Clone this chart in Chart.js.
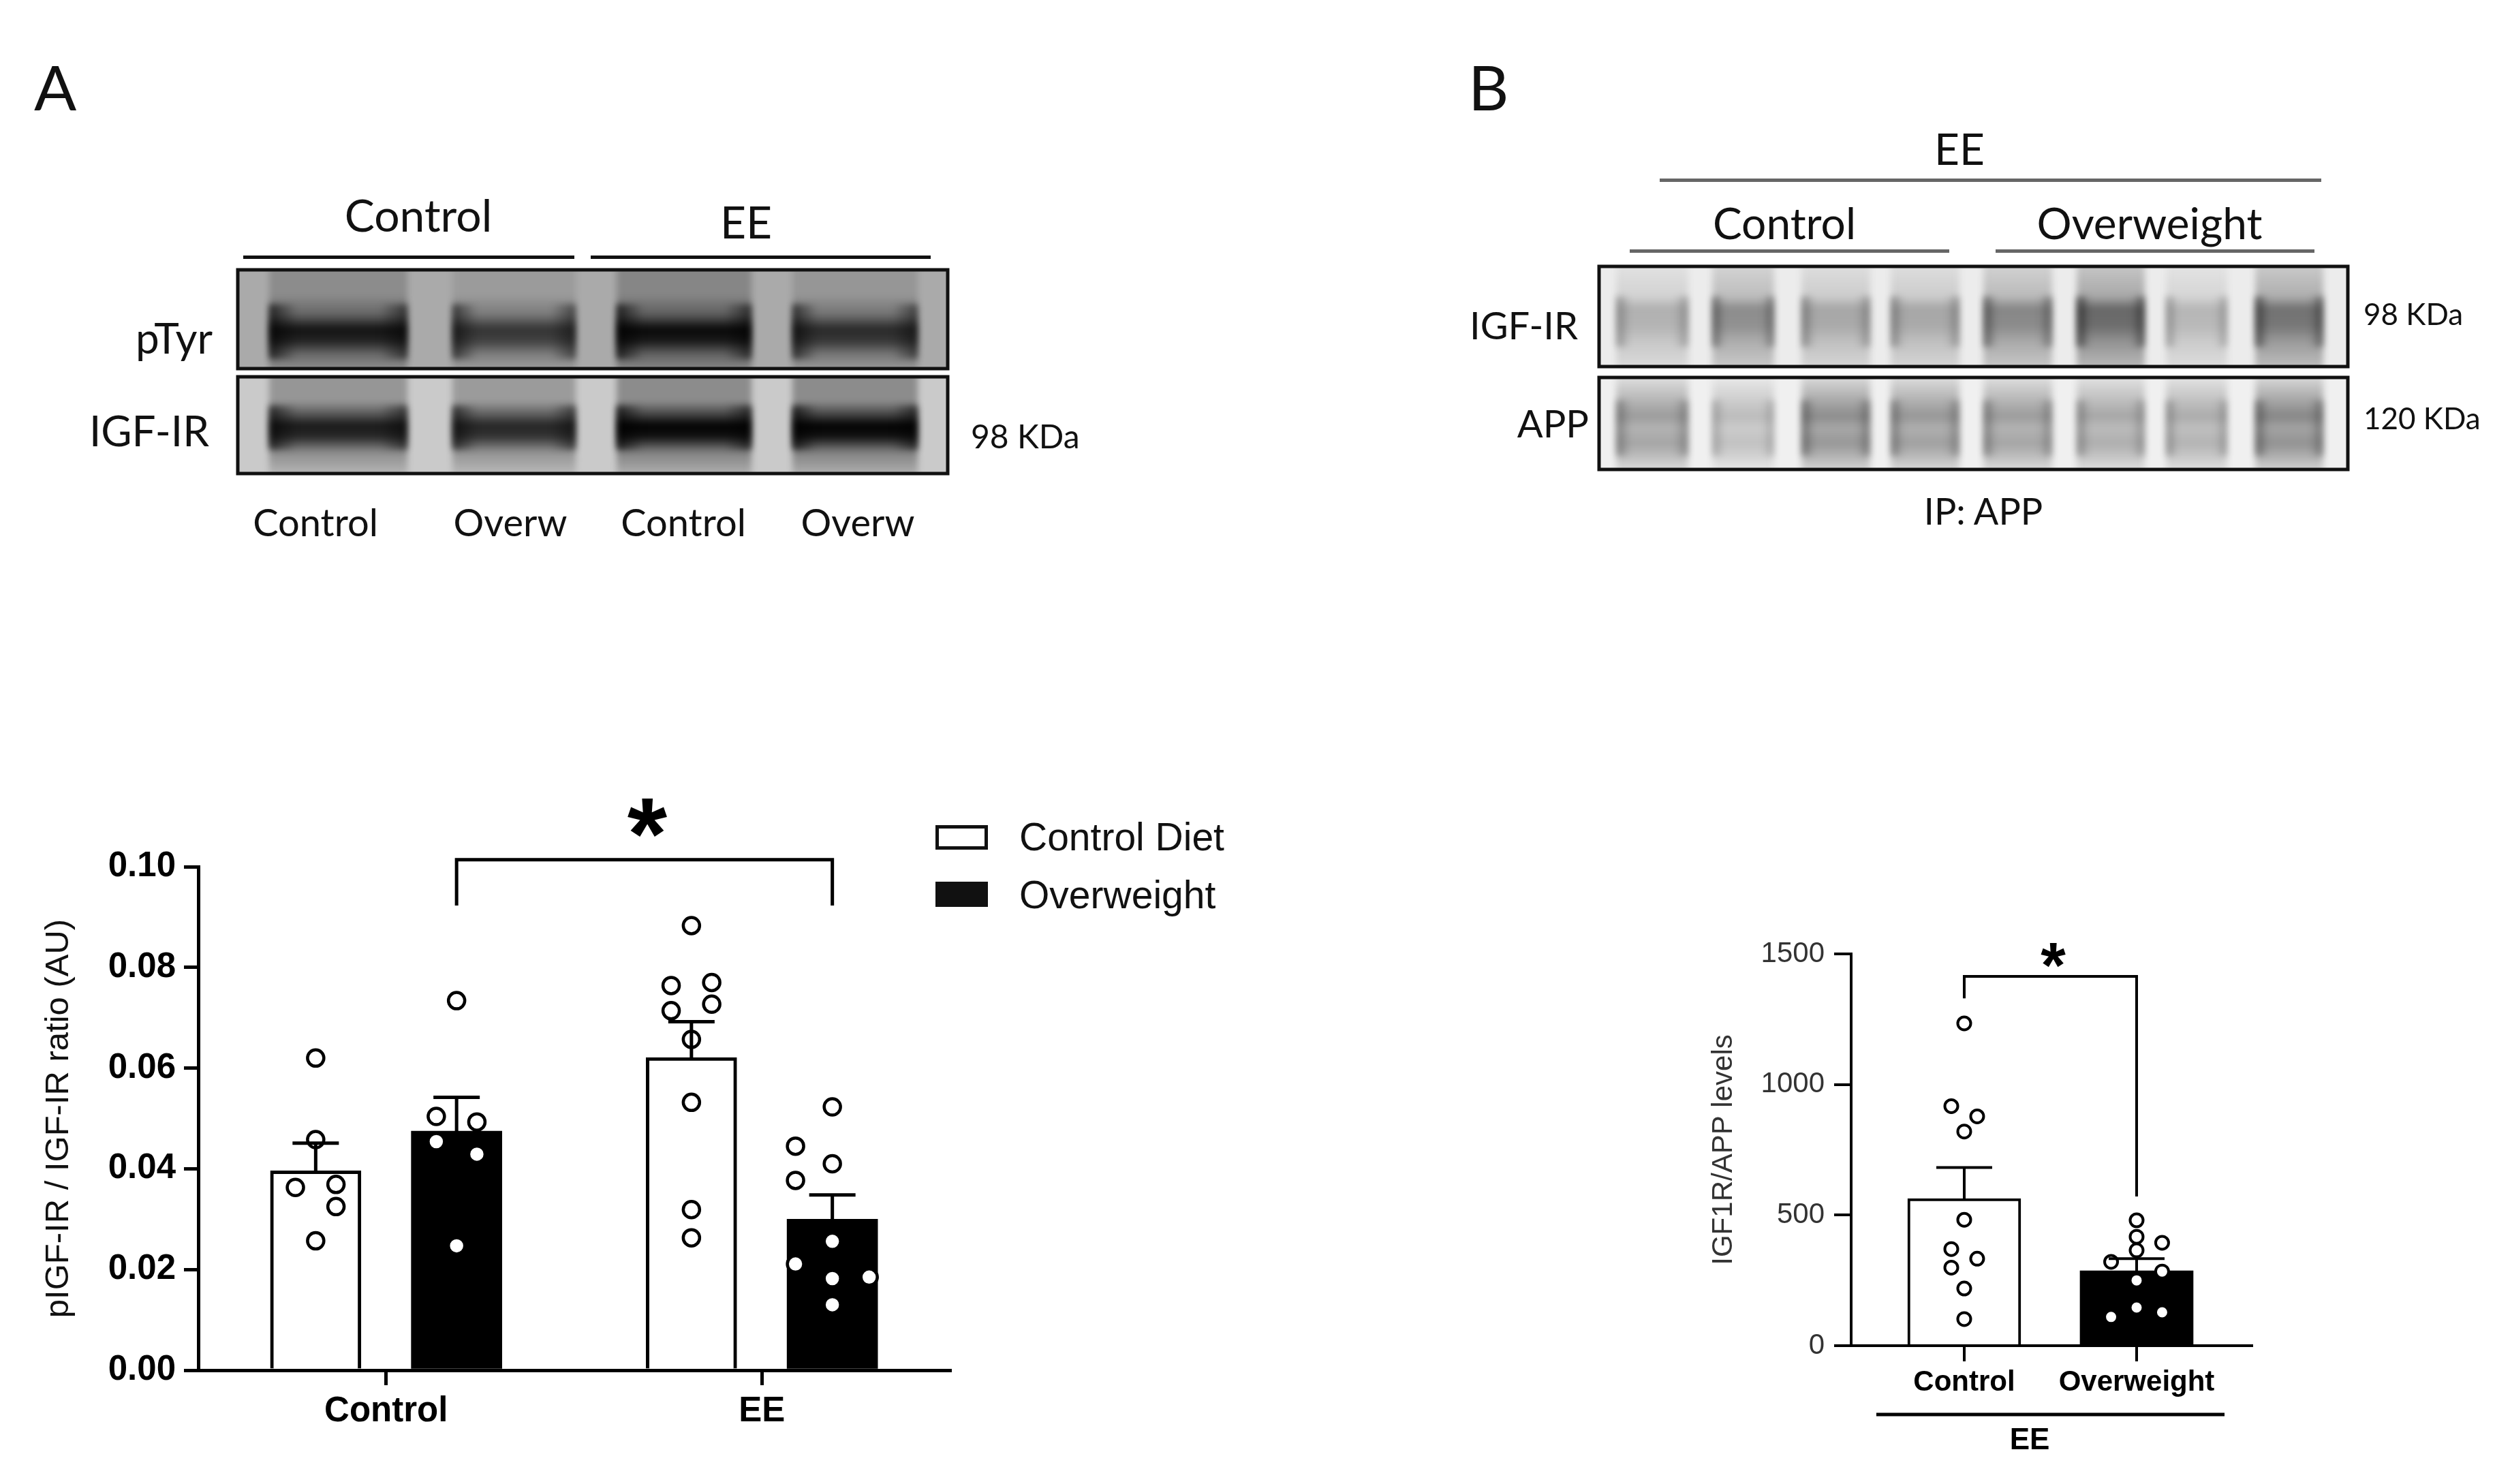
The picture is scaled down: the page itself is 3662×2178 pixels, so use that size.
<!DOCTYPE html>
<html><head><meta charset="utf-8">
<script src="https://cdn.jsdelivr.net/npm/chart.js@4.4.1/dist/chart.umd.min.js"></script>
<style>
html,body{margin:0;padding:0;background:#fff;}
#page{position:relative;width:3662px;height:2178px;overflow:hidden;background:#fff;}
.t{position:absolute;white-space:nowrap;line-height:1;color:#111;font-family:Lato,"Open Sans",sans-serif;}
.c{transform:translate(-50%,-50%);}
.r{transform:translate(-100%,-50%);}
.l{transform:translate(0,-50%);}
.ln{position:absolute;}
canvas{position:absolute;}
.lg{position:absolute;font-family:"Liberation Sans",Arial,sans-serif;font-size:57px;color:#111;line-height:1;transform:translate(0,-50%);white-space:nowrap;}
.box{position:absolute;box-sizing:border-box;}
</style></head>
<body><div id="page">
<canvas id="blot" width="3662" height="900" style="left:0;top:0;"></canvas>

<div class="t l" style="left:50px;top:127px;font-size:92px;">A</div>
<div class="t c" style="left:614px;top:315px;font-size:66px;">Control</div>
<div class="t c" style="left:1095px;top:325px;font-size:66px;">EE</div>
<div class="ln" style="left:357px;top:375px;width:486px;height:5px;background:#111;"></div>
<div class="ln" style="left:867px;top:375px;width:499px;height:5px;background:#111;"></div>
<div class="t r" style="left:312px;top:495px;font-size:62px;">pTyr</div>
<div class="t r" style="left:307px;top:631px;font-size:62px;">IGF-IR</div>
<div class="t l" style="left:1425px;top:640px;font-size:48px;">98 KDa</div>
<div class="t c" style="left:463px;top:766px;font-size:56px;">Control</div>
<div class="t c" style="left:749px;top:766px;font-size:56px;">Overw</div>
<div class="t c" style="left:1003px;top:766px;font-size:56px;">Control</div>
<div class="t c" style="left:1259px;top:766px;font-size:56px;">Overw</div>

<div class="t l" style="left:2155px;top:127px;font-size:92px;">B</div>
<div class="t c" style="left:2876px;top:218px;font-size:64px;">EE</div>
<div class="ln" style="left:2436px;top:262px;width:971px;height:5px;background:#666;"></div>
<div class="t c" style="left:2619px;top:327px;font-size:64px;">Control</div>
<div class="t c" style="left:3155px;top:327px;font-size:64px;">Overweight</div>
<div class="ln" style="left:2392px;top:366px;width:469px;height:5px;background:#666;"></div>
<div class="ln" style="left:2929px;top:366px;width:468px;height:5px;background:#666;"></div>
<div class="t r" style="left:2316px;top:477px;font-size:56px;">IGF-IR</div>
<div class="t r" style="left:2332px;top:621px;font-size:56px;">APP</div>
<div class="t l" style="left:3469px;top:460px;font-size:44px;">98 KDa</div>
<div class="t l" style="left:3469px;top:613px;font-size:44px;">120 KDa</div>
<div class="t c" style="left:2911px;top:750px;font-size:54px;">IP: APP</div>

<canvas id="chartA" width="1900" height="1078" style="left:0;top:1100px;width:1900px;height:1078px;"></canvas>
<canvas id="chartB" width="950" height="878" style="left:2450px;top:1300px;width:950px;height:878px;"></canvas>

<div class="box" style="left:1373px;top:1211px;width:77px;height:36px;border:5px solid #111;background:#fff;"></div>
<div class="box" style="left:1373px;top:1294px;width:77px;height:37px;background:#111;"></div>
<div class="lg" id="lg0" style="left:1496px;top:1228px;"></div>
<div class="lg" id="lg1" style="left:1496px;top:1313px;"></div>
</div>
<script>
// ================= DATA =================
const categoriesA = ['Control', 'EE'];
const seriesA = ['Control Diet', 'Overweight'];
const meanControlDietA = [0.0396, 0.0621];
const meanOverweightA = [0.0475, 0.0300];
const semControlDietA = [0.0055, 0.0071];
const semOverweightA = [0.0067, 0.0048];
const pointsControlDietA = [
  [0.0620, 0.0458, 0.0363, 0.0369, 0.0325, 0.0257],
  [0.0883, 0.0764, 0.0770, 0.0714, 0.0727, 0.0657, 0.0532, 0.0319, 0.0263]
];
const pointsOverweightA = [
  [0.0734, 0.0504, 0.0493, 0.0454, 0.0429, 0.0247],
  [0.0523, 0.0445, 0.0410, 0.0377, 0.0256, 0.0211, 0.0182, 0.0185, 0.0130]
];
const yTicksA = [0, 0.02, 0.04, 0.06, 0.08, 0.10];
const yTitleA = 'pIGF-IR / IGF-IR ratio (AU)';
const sigA = { fromCat: 0, toCat: 1, series: 1, top: 0.1014, end: 0.0923, label: '*' };

const categoriesB = ['Control', 'Overweight'];
const groupLabelB = 'EE';
const meanB = [563, 287];
const semB = [119, 46];
const pointsB = [
  [1234, 917, 878, 820, 482, 370, 333, 299, 219, 102],
  [480, 417, 394, 365, 321, 284, 250, 146, 128, 110]
];
const yTicksB = [0, 500, 1000, 1500];
const yTitleB = 'IGF1R/APP levels';
const sigB = { from: 0, to: 1, top: 1414, endFrom: 1330, endTo: 571, label: '*' };

// ================= LAYOUT (positions / styles, not data) =================
const colsControlDietA = [[0, 0, -1, 1, 1, 0], [0, -1, 1, -1, 1, 0, 0, 0, 0]];
const colsOverweightA = [[0, -1, 1, -1, 1, 0], [0, -1, 0, -1, 0, -1, 0, 1, 0]];
const jitterA = [[0.054, 0.054], [0.054, 0.098]];
const colsB = [[0, -1, 1, 0, 0, -1, 1, -1, 0, 0], [0, 0, 1, 0, -1, 1, 0, 0, 1, -1]];
const jitterB = [0.075, 0.148];

document.getElementById('lg0').textContent = seriesA[0];
document.getElementById('lg1').textContent = seriesA[1];

// ================= BLOTS (decorative images) =================
(function drawBlots() {
  const ctx = document.getElementById('blot').getContext('2d');
  const gray = v => { v = Math.max(0, Math.min(255, Math.round(v))); return `rgb(${v},${v},${v})`; };
  function panel(p) {
    ctx.save();
    ctx.beginPath(); ctx.rect(p.x, p.y, p.w, p.h); ctx.clip();
    ctx.fillStyle = gray(p.bg); ctx.fillRect(p.x, p.y, p.w, p.h);
    ctx.filter = `blur(${p.blur}px)`;
    p.lanes.forEach((ln, i) => {
      const d = p.dark[i];
      const g = ctx.createLinearGradient(0, p.y, 0, p.y + p.h);
      p.stops.forEach(([s, v]) => g.addColorStop(s, gray(255 - (255 - v) * d)));
      ctx.fillStyle = g;
      ctx.fillRect(ln[0], p.y - 12, ln[1] - ln[0], p.h + 24);
      const hg = ctx.createLinearGradient(ln[0], 0, ln[1], 0);
      hg.addColorStop(0, `rgba(0,0,0,${Math.min(1, p.edge * d)})`);
      hg.addColorStop(0.2, 'rgba(0,0,0,0)');
      hg.addColorStop(0.8, 'rgba(0,0,0,0)');
      hg.addColorStop(1, `rgba(0,0,0,${Math.min(1, p.edge * 0.8 * d)})`);
      ctx.fillStyle = hg;
      ctx.fillRect(ln[0], p.y + p.h * p.b0, ln[1] - ln[0], p.h * (p.b1 - p.b0));
    });
    ctx.restore();
    ctx.lineWidth = p.border; ctx.strokeStyle = '#111';
    ctx.strokeRect(p.x, p.y, p.w, p.h);
  }
  const lanesA = [[395, 598], [664, 845], [905, 1103], [1163, 1347]];
  const lanesB = [[2372, 2478], [2513, 2604], [2644, 2745], [2775, 2876], [2911, 3012], [3048, 3148], [3179, 3269], [3310, 3410]];
  panel({ x: 349, y: 396, w: 1042, h: 145, bg: 170, lanes: lanesA, dark: [1.1, 0.95, 1.15, 1.0],
    stops: [[0, 150], [0.25, 150], [0.45, 115], [0.6, 40], [0.72, 55], [0.86, 120], [1, 150]],
    edge: 0.6, b0: 0.35, b1: 0.9, blur: 5, border: 5 });
  panel({ x: 349, y: 553, w: 1042, h: 142, bg: 202, lanes: lanesA, dark: [1.0, 0.95, 1.1, 1.1],
    stops: [[0, 150], [0.25, 150], [0.38, 90], [0.5, 25], [0.62, 40], [0.78, 140], [1, 180]],
    edge: 0.6, b0: 0.3, b1: 0.75, blur: 5, border: 5 });
  panel({ x: 2347, y: 391, w: 1099, h: 147, bg: 236, lanes: lanesB, dark: [0.75, 1.1, 0.85, 0.85, 1.15, 1.45, 0.7, 1.35],
    stops: [[0, 215], [0.3, 195], [0.42, 150], [0.6, 155], [0.75, 180], [1, 205]],
    edge: 0.35, b0: 0.3, b1: 0.8, blur: 5, border: 5 });
  panel({ x: 2347, y: 554, w: 1099, h: 135, bg: 240, lanes: lanesB, dark: [0.95, 0.65, 1.1, 1.0, 0.95, 0.85, 0.8, 1.15],
    stops: [[0, 220], [0.2, 185], [0.42, 150], [0.55, 175], [0.72, 160], [0.88, 190], [1, 215]],
    edge: 0.3, b0: 0.25, b1: 0.85, blur: 5, border: 5 });
})();

// ================= CHARTS =================
Chart.defaults.font.family = '"Liberation Sans", Arial, sans-serif';
Chart.defaults.color = '#000';

// ---- Chart A ----
const W_A = 1900, H_A = 1078;
const areaA = { left: 291, right: 1394, top: 172, bottom: 911 };
const catPctA = 0.75;
const barWidthA = 133;
const offA = j => (j - 0.5) * catPctA / 2;

function scatterA(points, cols, j) {
  const out = [];
  points.forEach((arr, i) => arr.forEach((v, k) => {
    out.push({ x: i + offA(j) + cols[i][k] * jitterA[j][i], y: v });
  }));
  return out;
}
const barsA = (means, j) => means.map((v, i) => ({ x: i + offA(j), y: v }));

const errorBarsA = {
  id: 'errorBarsA',
  afterDatasetsDraw(chart) {
    const { ctx } = chart; const y = chart.scales.y; const x = chart.scales.x;
    const sets = [[2, meanControlDietA, semControlDietA], [3, meanOverweightA, semOverweightA]];
    ctx.save();
    ctx.strokeStyle = '#000'; ctx.lineWidth = 5; ctx.lineCap = 'butt';
    sets.forEach(([di, m, s]) => {
      chart.getDatasetMeta(di).data.forEach((el, i) => {
        const yt = y.getPixelForValue(m[i] + s[i]);
        ctx.beginPath();
        ctx.moveTo(el.x, el.y); ctx.lineTo(el.x, yt);
        ctx.moveTo(el.x - 34, yt); ctx.lineTo(el.x + 34, yt);
        ctx.stroke();
      });
    });
    const xl = x.getPixelForValue(sigA.fromCat + offA(sigA.series));
    const xr = x.getPixelForValue(sigA.toCat + offA(sigA.series));
    const yt = y.getPixelForValue(sigA.top), ye = y.getPixelForValue(sigA.end);
    ctx.beginPath();
    ctx.moveTo(xl, ye); ctx.lineTo(xl, yt); ctx.lineTo(xr, yt); ctx.lineTo(xr, ye);
    ctx.stroke();
    ctx.fillStyle = '#000';
    ctx.font = 'bold 150px "Liberation Sans", Arial, sans-serif';
    ctx.textAlign = 'center'; ctx.textBaseline = 'alphabetic';
    ctx.fillText(sigA.label, (xl + xr) / 2 + 4, yt - 72 + 86);
    ctx.restore();
  }
};

const ptStyleA = { pointRadius: 12, pointBorderWidth: 4.5, pointBackgroundColor: '#fff', pointBorderColor: '#000' };

new Chart(document.getElementById('chartA'), {
  type: 'bar',
  data: {
    datasets: [
      Object.assign({ type: 'scatter', label: 'pts ' + seriesA[0], data: scatterA(pointsControlDietA, colsControlDietA, 0), order: 0 }, ptStyleA),
      Object.assign({ type: 'scatter', label: 'pts ' + seriesA[1], data: scatterA(pointsOverweightA, colsOverweightA, 1), order: 0 }, ptStyleA),
      { type: 'bar', label: seriesA[0], data: barsA(meanControlDietA, 0), order: 1, grouped: false,
        backgroundColor: '#fff', borderColor: '#000', borderWidth: 5, barThickness: barWidthA },
      { type: 'bar', label: seriesA[1], data: barsA(meanOverweightA, 1), order: 1, grouped: false,
        backgroundColor: '#000', borderColor: '#000', borderWidth: 0, barThickness: barWidthA }
    ]
  },
  options: {
    responsive: false, animation: false, devicePixelRatio: 1,
    layout: { padding: { left: 0, top: areaA.top, right: W_A - areaA.right, bottom: 0 } },
    plugins: { legend: { display: false }, tooltip: { enabled: false } },
    scales: {
      x: {
        type: 'linear', min: -0.5, max: 1.5, offset: false, bounds: 'data', position: 'bottom',
        afterBuildTicks: s => { s.ticks = categoriesA.map((c, i) => ({ value: i })); },
        grid: { offset: false, drawOnChartArea: false, drawTicks: true, tickLength: 22, lineWidth: 5, color: '#000' },
        border: { display: true, width: 5, color: '#000' },
        ticks: { callback: v => categoriesA[v], font: { size: 51, weight: 'bold' }, color: '#000', padding: 8, maxRotation: 0, autoSkip: false },
        afterFit: s => { s.height = H_A - areaA.bottom; }
      },
      y: {
        min: 0, max: 0.1, position: 'left',
        afterBuildTicks: s => { s.ticks = yTicksA.map(v => ({ value: v })); },
        ticks: { callback: v => Number(v).toFixed(2), font: { size: 51, weight: 'bold' }, color: '#000', padding: 12 },
        grid: { drawOnChartArea: false, drawTicks: true, tickLength: 21, lineWidth: 5, color: '#000' },
        border: { display: true, width: 5, color: '#000' },
        title: { display: true, text: yTitleA, font: { size: 49 }, color: '#111', padding: { top: 57, bottom: 0 } },
        afterFit: s => { s.width = areaA.left; }
      }
    }
  },
  plugins: [errorBarsA]
});

// ---- Chart B ----
const W_B = 950, H_B = 878;
const areaB = { left: 267, right: 855, top: 100, bottom: 675 };
const xMinB = -0.656, xMaxB = 1.668;
const groupLineB = [-0.51, 1.51];
const groupLabelPosB = 0.38;

const extrasB = {
  id: 'extrasB',
  afterDatasetsDraw(chart) {
    const { ctx } = chart; const y = chart.scales.y; const x = chart.scales.x;
    ctx.save();
    ctx.strokeStyle = '#000'; ctx.lineWidth = 4;
    chart.getDatasetMeta(1).data.forEach((el, i) => {
      const yt = y.getPixelForValue(meanB[i] + semB[i]);
      ctx.beginPath();
      ctx.moveTo(el.x, el.y); ctx.lineTo(el.x, yt);
      ctx.moveTo(el.x - 41, yt); ctx.lineTo(el.x + 41, yt);
      ctx.stroke();
    });
    const xl = x.getPixelForValue(sigB.from), xr = x.getPixelForValue(sigB.to);
    const yt = y.getPixelForValue(sigB.top);
    ctx.beginPath();
    ctx.moveTo(xl, y.getPixelForValue(sigB.endFrom)); ctx.lineTo(xl, yt);
    ctx.lineTo(xr, yt); ctx.lineTo(xr, y.getPixelForValue(sigB.endTo));
    ctx.stroke();
    ctx.fillStyle = '#000';
    ctx.font = 'bold 94px "Liberation Sans", Arial, sans-serif';
    ctx.textAlign = 'center'; ctx.textBaseline = 'alphabetic';
    ctx.fillText(sigB.label, (xl + xr) / 2 + 4, yt - 38 + 54);
    ctx.lineWidth = 5;
    ctx.beginPath();
    ctx.moveTo(x.getPixelForValue(groupLineB[0]), 776);
    ctx.lineTo(x.getPixelForValue(groupLineB[1]), 776);
    ctx.stroke();
    ctx.font = 'bold 44px "Liberation Sans", Arial, sans-serif';
    ctx.textBaseline = 'middle';
    ctx.fillText(groupLabelB, x.getPixelForValue(groupLabelPosB), 815);
    ctx.restore();
  }
};

const scatterBData = [];
pointsB.forEach((arr, i) => arr.forEach((v, k) => scatterBData.push({ x: i + colsB[i][k] * jitterB[i], y: v })));

new Chart(document.getElementById('chartB'), {
  type: 'bar',
  data: {
    datasets: [
      { type: 'scatter', label: 'points', data: scatterBData, order: 0,
        pointRadius: 9.5, pointBorderWidth: 4, pointBackgroundColor: '#fff', pointBorderColor: '#000' },
      { type: 'bar', label: 'mean', data: meanB.map((v, i) => ({ x: i, y: v })), order: 1, grouped: false,
        backgroundColor: ['#fff', '#000'], borderColor: '#000', borderWidth: [4, 0], barThickness: 166 }
    ]
  },
  options: {
    responsive: false, animation: false, devicePixelRatio: 1,
    layout: { padding: { left: 0, top: areaB.top, right: W_B - areaB.right, bottom: 0 } },
    plugins: { legend: { display: false }, tooltip: { enabled: false } },
    scales: {
      x: {
        type: 'linear', min: xMinB, max: xMaxB, offset: false, bounds: 'data', position: 'bottom',
        afterBuildTicks: s => { s.ticks = categoriesB.map((c, i) => ({ value: i })); },
        ticks: { callback: v => categoriesB[v], font: { size: 42, weight: 'bold' }, color: '#000', padding: 6, maxRotation: 0, autoSkip: false },
        grid: { offset: false, drawOnChartArea: false, drawTicks: true, tickLength: 23, lineWidth: 4, color: '#000' },
        border: { display: true, width: 4, color: '#000' },
        afterFit: s => { s.height = H_B - areaB.bottom; }
      },
      y: {
        min: 0, max: 1500, position: 'left',
        afterBuildTicks: s => { s.ticks = yTicksB.map(v => ({ value: v })); },
        ticks: { callback: v => String(v), font: { size: 42 }, color: '#333', padding: 14 },
        grid: { drawOnChartArea: false, drawTicks: true, tickLength: 25, lineWidth: 4, color: '#000' },
        border: { display: true, width: 4, color: '#000' },
        title: { display: true, text: yTitleB, font: { size: 42 }, color: '#333', padding: { top: 55, bottom: 0 } },
        afterFit: s => { s.width = areaB.left; }
      }
    }
  },
  plugins: [extrasB]
});
</script>
</body></html>
